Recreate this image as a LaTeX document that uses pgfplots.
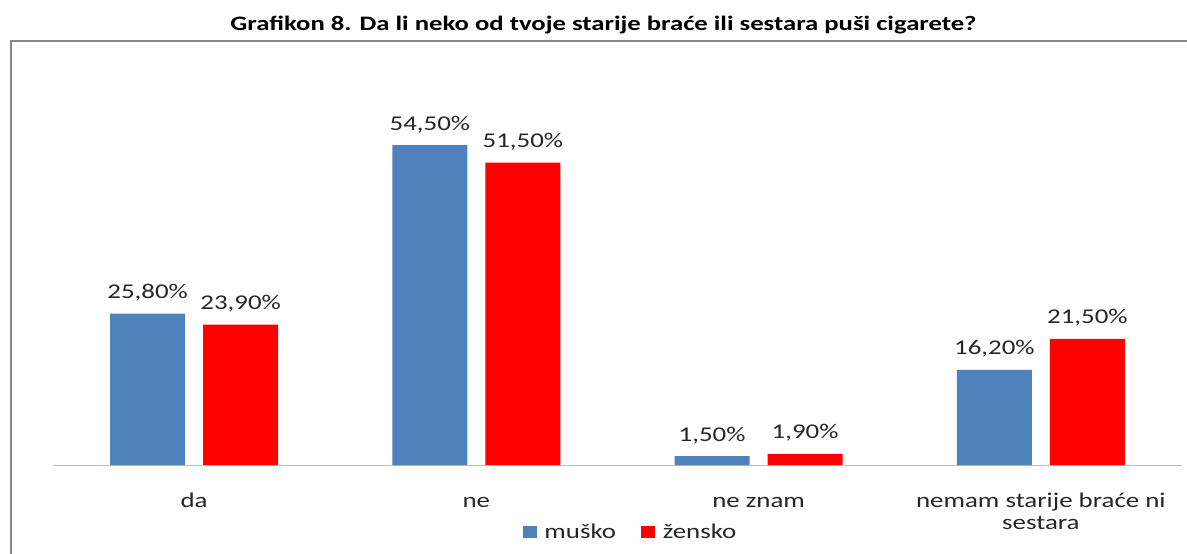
\documentclass[border=0pt]{standalone}
\usepackage{pgfplots}
\pgfplotsset{compat=1.18}
\usepackage{fontspec}
\setmainfont{Carlito}
\newfontfamily\chartfont{Carlito}[FakeStretch=1.28]
\newfontfamily\titlefont{Carlito}[FakeStretch=1.3]
\definecolor{mblue}{RGB}{79,129,189}
\definecolor{fred}{RGB}{255,0,0}
\definecolor{framegray}{RGB}{134,134,134}
\definecolor{axisgray}{RGB}{190,190,190}
\begin{document}
\begin{tikzpicture}
\path[use as bounding box, clip] (0,0) rectangle (890.25pt,414.75pt);
\draw[framegray, line width=1.5pt] (8.25pt,-20pt) rectangle (910pt,384pt);
\node[anchor=base, font=\titlefont\fontsize{15.4}{18}\selectfont\bfseries, inner sep=0pt] at (452.6pt,392pt)
  {Grafikon 8. Da li neko od tvoje starije braće ili sestara puši cigarete?};
\begin{axis}[
  at={(39.75pt,66pt)}, anchor=south west,
  scale only axis, width=846.75pt, height=264.15pt,
  ymin=0, ymax=60, xmin=-0.5, xmax=3.5,
  axis x line*=bottom, axis y line=none,
  x axis line style={axisgray, line width=0.75pt, -},
  xtick=data, xticklabels={da,ne,ne znam,{\begin{tabular}[t]{@{}c@{}}nemam starije braće ni\\sestara\end{tabular}}},
  xtick style={draw=none}, major tick length=0pt,
  xticklabel style={anchor=base, yshift=-31.5pt,
    font=\chartfont\fontsize{15.75}{16.5}\selectfont, text=black!85},
  ytick=\empty,
  ybar, bar width=56.25pt,
  nodes near coords={\pgfmathprintnumber[fixed,fixed zerofill,precision=2,use comma,assume math mode=true]{\pgfplotspointmeta}\%},
  every node near coord/.append style={anchor=base, yshift=11.25pt, inner sep=0pt,
    font=\chartfont\fontsize{15.75}{18}\selectfont, text=black!85},
  legend columns=2,
  legend style={at={(0.512,-0.19)}, anchor=center, draw=none, fill=none,
    font=\chartfont\fontsize{15.75}{18}\selectfont, text=black!85,
    /tikz/every even column/.append style={column sep=17pt}},
  legend image code/.code={\fill[#1] (0pt,-4.5pt) rectangle (10.5pt,4.5pt); \path (14pt,0pt);},
  clip=false,
]
\addplot[fill=mblue, draw=none, bar shift=-34.875pt] coordinates {(0,25.8) (1,54.5) (2,1.5) (3,16.2)};
\addplot[fill=fred, draw=none, bar shift=34.875pt] coordinates {(0,23.9) (1,51.5) (2,1.9) (3,21.5)};
\legend{muško, žensko}
\end{axis}
\end{tikzpicture}
\end{document}
